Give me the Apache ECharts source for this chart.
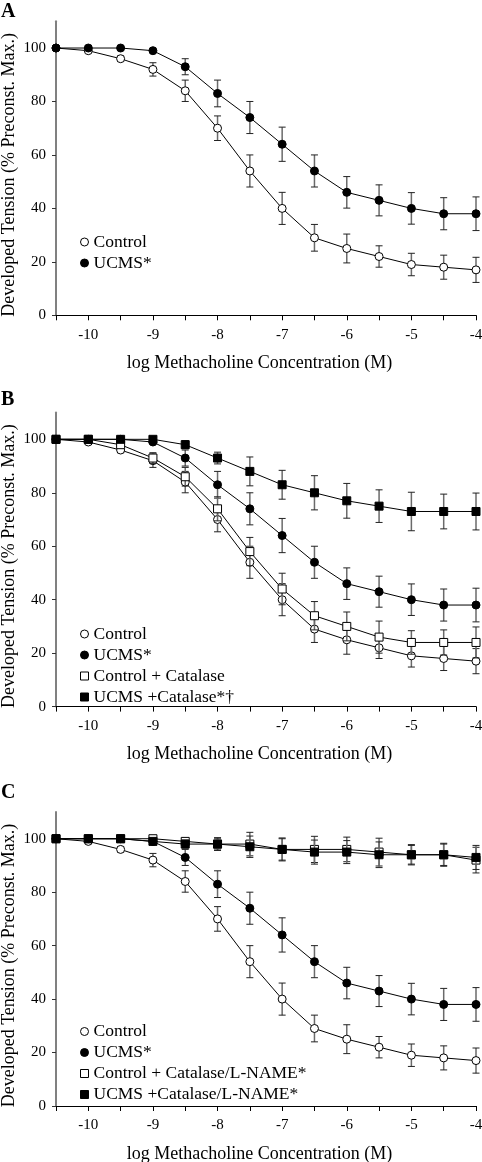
<!DOCTYPE html>
<html>
<head>
<meta charset="utf-8">
<script src="https://cdn.jsdelivr.net/npm/echarts@6/dist/echarts.min.js"></script>
<style>
html,body{margin:0;padding:0;background:#fff;}
#chart{width:482px;height:1162px;}
</style>
</head>
<body>
<div id="chart"></div>
<script>
// ---- data ----
const logConc = [-10.5, -10, -9.5, -9, -8.5, -8, -7.5, -7, -6.5, -6, -5.5, -5, -4.5, -4];
const xTicks = [-10, -9, -8, -7, -6, -5, -4];
const yTicks = [0, 20, 40, 60, 80, 100];

const control      = [100, 99, 96, 92, 84, 70, 54, 40, 29, 25, 22, 19, 18, 17];
const controlErr   = [0, 0.3, 1, 2.5, 4, 4.6, 6, 6, 5, 5.4, 4, 4.2, 4.5, 4.7];
const ucms         = [100, 100, 100, 99, 93, 83, 74, 64, 54, 46, 43, 40, 38, 38];
const ucmsErr      = [0, 0, 0, 0.5, 3, 5, 6, 6.4, 6, 5.9, 5.8, 5.9, 6, 6.3];
const ctrlCat      = [100, 100, 98, 93, 86, 74, 58, 44, 34, 30, 26, 24, 24, 24];
const ctrlCatErr   = [0, 0.5, 1, 2, 3.5, 4.5, 5.3, 5.9, 5.3, 5.4, 6, 4.4, 4.7, 5.8];
const ucmsCat      = [100, 100, 100, 100, 98, 93, 88, 83, 80, 77, 75, 73, 73, 73];
const ucmsCatErr   = [0, 0, 0, 0.5, 1.5, 2.2, 5.4, 5.4, 6.4, 6.5, 6.1, 7.2, 6.5, 6.9];
const ctrlCatLN    = [100, 100, 100, 100, 99, 98, 98, 96, 96, 96, 95, 94, 94, 92];
const ctrlCatLNErr = [0, 0, 0, 0.5, 1, 2.4, 4.4, 4.3, 4.9, 4.6, 5.2, 3.8, 4.3, 4.8];
const ucmsCatLN    = [100, 100, 100, 99, 98, 98, 97, 96, 95, 95, 94, 94, 94, 93];
const ucmsCatLNErr = [0, 0, 0, 0.5, 1.5, 2.2, 4.0, 4.0, 4.5, 4.3, 4.8, 3.5, 4.0, 4.5];

const panelLetters = ['A', 'B', 'C'];
const xTitle = 'log Methacholine Concentration (M)';
const yTitle = 'Developed Tension (% Preconst. Max.)';

const FONT = "'Liberation Serif','Times New Roman',serif";

const styles = {
  openCircle:  {symbol: 'circle', fill: '#ffffff'},
  fillCircle:  {symbol: 'circle', fill: '#000000'},
  openSquare:  {symbol: 'rect',   fill: '#ffffff'},
  fillSquare:  {symbol: 'rect',   fill: '#000000'}
};

const panels = [
  [
    {name: 'Control', vals: control, errs: controlErr, st: styles.openCircle},
    {name: 'UCMS*', vals: ucms, errs: ucmsErr, st: styles.fillCircle}
  ],
  [
    {name: 'Control', vals: control, errs: controlErr, st: styles.openCircle},
    {name: 'UCMS*', vals: ucms, errs: ucmsErr, st: styles.fillCircle},
    {name: 'Control + Catalase', vals: ctrlCat, errs: ctrlCatErr, st: styles.openSquare},
    {name: 'UCMS +Catalase*\u2020', vals: ucmsCat, errs: ucmsCatErr, st: styles.fillSquare}
  ],
  [
    {name: 'Control', vals: control, errs: controlErr, st: styles.openCircle},
    {name: 'UCMS*', vals: ucms, errs: ucmsErr, st: styles.fillCircle},
    {name: 'Control + Catalase/L-NAME*', vals: ctrlCatLN, errs: ctrlCatLNErr, st: styles.openSquare},
    {name: 'UCMS +Catalase/L-NAME*', vals: ucmsCatLN, errs: ucmsCatLNErr, st: styles.fillSquare}
  ]
];

const gridTops = [21.3, 412.6, 812];
const gridHeight = 294;
const legendTops = [231.5, 623.5, 1021];
const letterTops = [2, 390, 783];

function errRender(params, api) {
  const x = api.value(0), y = api.value(1), e = api.value(2);
  if (!e) return null;
  const t = api.coord([x, y + e]);
  const b = api.coord([x, y - e]);
  const hw = 3.5;
  return {
    type: 'group',
    children: [
      {type: 'line', shape: {x1: t[0], y1: t[1], x2: b[0], y2: b[1]}, style: {stroke: '#6a6a6a', lineWidth: 1.5}},
      {type: 'line', shape: {x1: t[0] - hw, y1: t[1], x2: t[0] + hw, y2: t[1]}, style: {stroke: '#222', lineWidth: 1}},
      {type: 'line', shape: {x1: b[0] - hw, y1: b[1], x2: b[0] + hw, y2: b[1]}, style: {stroke: '#222', lineWidth: 1}}
    ]
  };
}

const grid = [], xAxis = [], yAxis = [], series = [], legend = [], graphic = [];
let z = 2;
panels.forEach((ps, pi) => {
  grid.push({left: 56, right: 6, top: gridTops[pi], height: gridHeight, containLabel: false, outerBoundsMode: 'none'});
  xAxis.push({
    type: 'value', gridIndex: pi, min: -10.5, max: -4, interval: 0.5,
    splitLine: {show: false},
    axisLine: {show: true, onZero: false, lineStyle: {color: '#000', width: 1.2}},
    axisTick: {show: true, inside: false, length: 5, lineStyle: {color: '#000', width: 1}},
    axisLabel: {
      color: '#000', fontFamily: FONT, fontSize: 15, margin: 12,
      formatter: v => (xTicks.indexOf(v) >= 0 ? String(v) : '')
    },
    name: xTitle, nameLocation: 'middle', nameGap: 39, nameMoveOverlap: false,
    nameTextStyle: {color: '#000', fontFamily: FONT, fontSize: 18, padding: [0, 13, 0, 0]}
  });
  yAxis.push({
    type: 'value', gridIndex: pi, min: 0, max: 110, interval: 20,
    splitLine: {show: false},
    axisLine: {show: true, lineStyle: {color: '#808080', width: 2}},
    axisTick: {show: true, inside: false, length: 4, customValues: yTicks, lineStyle: {color: '#333', width: 1}},
    axisLabel: {color: '#000', fontFamily: FONT, fontSize: 15, margin: 10, customValues: yTicks},
    name: yTitle, nameLocation: 'middle', nameGap: 38, nameMoveOverlap: false,
    nameTextStyle: {color: '#000', fontFamily: FONT, fontSize: 18, padding: [0, 13, 0, 0]}
  });
  const legData = [];
  ps.forEach(s => {
    series.push({
      type: 'custom', xAxisIndex: pi, yAxisIndex: pi, z: z++,
      renderItem: errRender,
      encode: {x: 0, y: 1},
      data: logConc.map((x, i) => [x, s.vals[i], s.errs[i]]),
      silent: true
    });
    series.push({
      type: 'line', name: s.name, xAxisIndex: pi, yAxisIndex: pi, z: z++,
      data: logConc.map((x, i) => [x, s.vals[i]]),
      symbol: s.st.symbol, symbolSize: 8, showSymbol: true,
      lineStyle: {color: '#000', width: 1},
      itemStyle: {color: s.st.fill, borderColor: '#000', borderWidth: 1, opacity: 1},
      emphasis: {disabled: true}
    });
    legData.push({name: s.name, icon: s.st.symbol,
      itemStyle: {color: s.st.fill, borderColor: '#000', borderWidth: 1}});
  });
  legend.push({
    orient: 'vertical', left: 80, top: legendTops[pi], padding: 0, itemGap: 0,
    itemWidth: 8, itemHeight: 8, selectedMode: false,
    textStyle: {color: '#000', fontFamily: FONT, fontSize: 17.5, lineHeight: 21},
    data: legData
  });
  graphic.push({
    type: 'text', left: 1, top: letterTops[pi],
    style: {text: panelLetters[pi], fill: '#000', font: "bold 20px 'Liberation Serif', serif"}
  });
});

const chart = echarts.init(document.getElementById('chart'), null, {renderer: 'canvas'});
chart.setOption({
  animation: false,
  backgroundColor: '#fff',
  textStyle: {fontFamily: FONT},
  grid, xAxis, yAxis, series, legend, graphic
});
</script>
</body>
</html>
